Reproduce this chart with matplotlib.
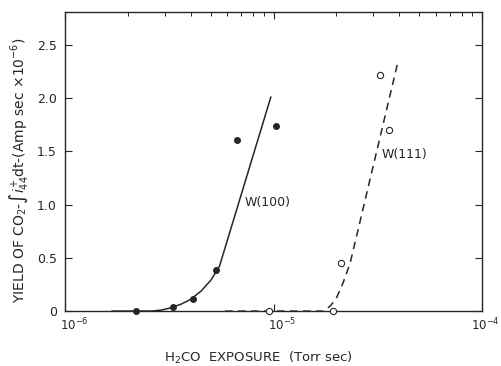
import matplotlib
matplotlib.use("Agg")
import matplotlib.pyplot as plt
import matplotlib.transforms as mtransforms
from matplotlib.ticker import LogLocator, NullFormatter, FixedLocator

# measured points
w100_x = [2.2e-6, 3.3e-6, 4.1e-6, 5.3e-6, 6.7e-6, 1.03e-5]
w100_y = [0.0, 0.04, 0.11, 0.39, 1.61, 1.74]
w111_x = [9.5e-6, 1.93e-5, 2.11e-5, 3.24e-5, 3.58e-5]
w111_y = [0.0, 0.0, 0.45, 2.22, 1.70]

# hand-drawn fit curves
fit100_x = [1.68e-6, 2.6e-6, 2.9e-6, 3.2e-6, 3.6e-6, 4.0e-6, 4.5e-6, 5.0e-6, 5.5e-6, 9.7e-6]
fit100_y = [0.0, 0.0, 0.01, 0.03, 0.065, 0.11, 0.19, 0.29, 0.42, 2.01]
fit111_x = [5.85e-6, 1.73e-5, 1.87e-5, 2.0e-5, 2.15e-5, 2.33e-5, 3.95e-5]
fit111_y = [0.0, 0.0, 0.047, 0.12, 0.26, 0.45, 2.34]

y_ticks = [0, 0.5, 1.0, 1.5, 2.0, 2.5]
y_labels = ["0", "0.5", "1.0", "1.5", "2.0", "2.5"]
x_ticks = [1e-6, 1e-5, 1e-4]
x_labels = [r"$10^{-6}$", r"$10^{-5}$", r"$10^{-4}$"]

INK = "0.15"

fig = plt.figure(figsize=(5.01, 3.66), dpi=100)
ax = fig.add_axes([0.130, 0.150, 0.832, 0.817])

ax.plot(fit100_x, fit100_y, "-", color=INK, lw=1.1, clip_on=False)
ax.plot(fit111_x, fit111_y, "--", color=INK, lw=1.1, dashes=(5, 3.5), clip_on=False)
ax.plot(w100_x, w100_y, "o", ms=4, color=INK, clip_on=False, zorder=5)
ax.plot(w111_x, w111_y, "o", ms=4.5, mfc="white", mec=INK, mew=0.8,
        clip_on=False, zorder=5)

ax.text(7.3e-6, 1.02, "W(100)", fontsize=9, color=INK, va="center")
ax.text(3.3e-5, 1.47, "W(111)", fontsize=9, color=INK, va="center")

ax.set_xscale("log")
ax.set_xlim(1e-6, 1e-4)
ax.set_ylim(0, 2.81)

ax.xaxis.set_major_locator(FixedLocator(x_ticks))
ax.set_xticklabels(x_labels)
ax.xaxis.set_minor_locator(LogLocator(base=10, subs=range(2, 10)))
ax.xaxis.set_minor_formatter(NullFormatter())
ax.set_yticks(y_ticks)
ax.set_yticklabels(y_labels)

ax.tick_params(axis="both", which="major", direction="in", length=5,
               width=0.8, colors=INK, labelsize=9, top=True, right=True)
ax.tick_params(axis="x", which="minor", direction="in", length=3,
               width=0.6, top=True, bottom=False)
ax.tick_params(axis="y", pad=6)
ax.tick_params(axis="x", pad=4, labelsize=8.5)

# tick labels sit a little right of their ticks in the original
for lab, dx in zip(ax.get_xticklabels(), [9, 9, 3]):
    shift = mtransforms.ScaledTranslation(dx / 100, 0, fig.dpi_scale_trans)
    lab.set_transform(lab.get_transform() + shift)

for s in ax.spines.values():
    s.set_color(INK)
    s.set_linewidth(1.0)

ax.set_ylabel(r"YIELD OF CO$_2$-$\int i^{+}_{44}$dt-(Amp sec $\times$10$^{-6}$)",
              fontsize=10, color=INK)
ax.yaxis.set_label_coords(-0.085, 0.47)
ax.set_xlabel("H$_2$CO  EXPOSURE  (Torr sec)", fontsize=9.5, color=INK)
ax.xaxis.set_label_coords(0.465, -0.13)

fig.savefig("out.png", dpi=100)
